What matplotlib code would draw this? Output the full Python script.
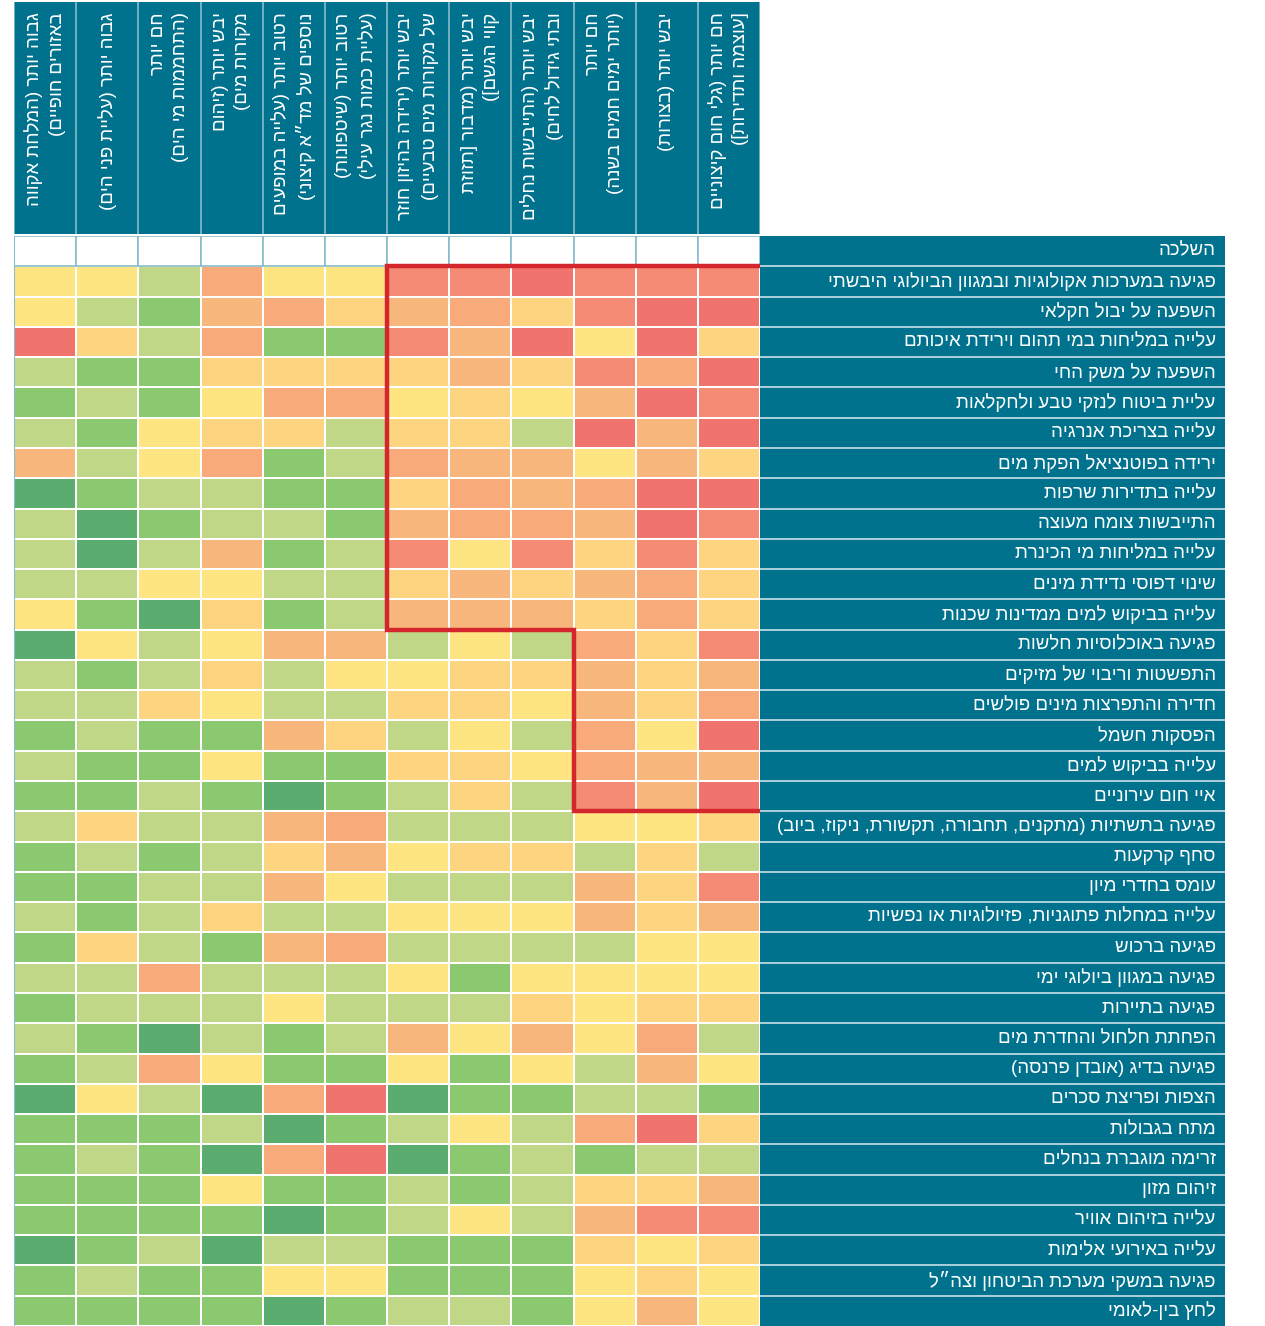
import numpy as np
import matplotlib
matplotlib.use('Agg')
import matplotlib.pyplot as plt
from matplotlib.colors import ListedColormap, BoundaryNorm
from matplotlib.patches import Rectangle

plt.rcParams['font.family'] = ['Liberation Sans', 'DejaVu Sans']

# column headers (climate hazards), left to right
hazards = [
    "גבוה יותר (המלחת אקווה\nבאזורים חופיים)",
    "גבוה יותר (עליית פני הים)",
    "חם יותר\n(התחממות מי הים)",
    "יבש יותר (זיהום\nמקורות מים)",
    "רטוב יותר (עלייה במופעים\nנוספים של מד״א קיצוני)",
    "רטוב יותר (שיטפונות)\n(עליית כמות נגר עילי)",
    "יבש יותר (ירידה בהיזון חוזר\nשל מקורות מים טבעיים)",
    "יבש יותר (מדבור [תזוזת\nקווי הגשם])",
    "יבש יותר (התייבשות נחלים\nובתי גידול לחים)",
    "חם יותר\n(יותר ימים חמים בשנה)",
    "יבש יותר (בצורות)",
    "חם יותר (גלי חום קיצוניים\n[עוצמה ותדירות])",
]

header_label = "השלכה"

# row labels (impacts), top to bottom
impacts = [
    "פגיעה במערכות אקולוגיות ובמגוון הביולוגי היבשתי",
    "השפעה על יבול חקלאי",
    "עלייה במליחות במי תהום וירידת איכותם",
    "השפעה על משק החי",
    "עליית ביטוח לנזקי טבע ולחקלאות",
    "עלייה בצריכת אנרגיה",
    "ירידה בפוטנציאל הפקת מים",
    "עלייה בתדירות שרפות",
    "התייבשות צומח מעוצה",
    "עלייה במליחות מי הכינרת",
    "שינוי דפוסי נדידת מינים",
    "עלייה בביקוש למים ממדינות שכנות",
    "פגיעה באוכלוסיות חלשות",
    "התפשטות וריבוי של מזיקים",
    "חדירה והתפרצות מינים פולשים",
    "הפסקות חשמל",
    "עלייה בביקוש למים",
    "איי חום עירוניים",
    "פגיעה בתשתיות (מתקנים, תחבורה, תקשורת, ניקוז, ביוב)",
    "סחף קרקעות",
    "עומס בחדרי מיון",
    "עלייה במחלות פתוגניות, פזיולוגיות או נפשיות",
    "פגיעה ברכוש",
    "פגיעה במגוון ביולוגי ימי",
    "פגיעה בתיירות",
    "הפחתת חלחול והחדרת מים",
    "פגיעה בדיג (אובדן פרנסה)",
    "הצפות ופריצת סכרים",
    "מתח בגבולות",
    "זרימה מוגברת בנחלים",
    "זיהום מזון",
    "עלייה בזיהום אוויר",
    "עלייה באירועי אלימות",
    "פגיעה במשקי מערכת הביטחון וצה״ל",
    "לחץ בין-לאומי",
]

# impact level 0 (low, dark green) .. 8 (high, red)
scores = [
    [3, 3, 2, 6, 3, 3, 7, 7, 8, 7, 7, 7],
    [3, 2, 1, 5, 6, 4, 5, 6, 4, 7, 8, 8],
    [8, 4, 2, 6, 1, 1, 7, 5, 8, 3, 8, 4],
    [2, 1, 1, 4, 4, 4, 4, 5, 4, 7, 6, 8],
    [1, 2, 1, 3, 6, 6, 3, 4, 3, 5, 8, 7],
    [2, 1, 3, 4, 4, 2, 4, 4, 2, 8, 5, 8],
    [5, 2, 3, 6, 1, 2, 6, 5, 5, 3, 5, 4],
    [0, 1, 2, 2, 1, 1, 4, 6, 5, 6, 8, 8],
    [2, 0, 1, 2, 2, 1, 5, 6, 6, 5, 8, 7],
    [2, 0, 2, 5, 1, 2, 7, 3, 7, 4, 7, 4],
    [2, 2, 3, 3, 2, 2, 4, 5, 4, 5, 6, 4],
    [3, 1, 0, 4, 1, 2, 5, 5, 5, 4, 6, 4],
    [0, 3, 2, 3, 5, 5, 2, 3, 2, 6, 4, 7],
    [2, 1, 2, 4, 2, 3, 3, 4, 4, 5, 4, 5],
    [2, 2, 4, 3, 2, 2, 4, 4, 3, 5, 4, 6],
    [1, 2, 1, 1, 5, 4, 2, 3, 2, 6, 3, 8],
    [2, 1, 1, 3, 1, 1, 4, 4, 3, 6, 5, 5],
    [1, 1, 2, 1, 0, 1, 2, 4, 2, 7, 5, 8],
    [2, 4, 2, 2, 5, 6, 2, 2, 2, 3, 3, 4],
    [1, 2, 1, 2, 4, 5, 3, 4, 4, 2, 4, 2],
    [1, 1, 2, 2, 5, 3, 2, 2, 2, 5, 4, 7],
    [2, 1, 2, 4, 2, 2, 3, 3, 3, 5, 4, 5],
    [1, 4, 2, 1, 5, 6, 2, 2, 2, 2, 3, 3],
    [2, 2, 6, 2, 2, 2, 3, 1, 3, 3, 3, 3],
    [1, 2, 2, 2, 3, 2, 2, 2, 4, 3, 4, 4],
    [2, 1, 0, 2, 1, 2, 5, 3, 5, 3, 6, 2],
    [1, 2, 6, 3, 1, 1, 3, 1, 3, 2, 5, 3],
    [0, 3, 2, 0, 6, 8, 0, 1, 1, 2, 2, 1],
    [1, 1, 1, 2, 0, 1, 2, 3, 2, 6, 8, 4],
    [1, 2, 1, 0, 6, 8, 0, 1, 2, 1, 2, 2],
    [1, 1, 1, 3, 1, 1, 2, 1, 2, 4, 4, 5],
    [1, 1, 1, 1, 0, 1, 2, 3, 2, 5, 7, 7],
    [0, 1, 2, 0, 2, 2, 1, 1, 1, 4, 3, 4],
    [1, 2, 1, 1, 3, 3, 1, 1, 1, 3, 4, 3],
    [1, 1, 1, 1, 0, 1, 2, 2, 1, 3, 5, 3],
]

# highlighted block: (first row, last row + 1, first column)
high_blocks = [(0, 12, 6), (12, 18, 9)]

level_colors = ['#5aad6f', '#8bc970', '#bfd787', '#fee581', '#fdd581',
                '#f6b67c', '#f8aa7a', '#f58b74', '#f1736d']
TEAL = '#00728e'
LINE_BLUE = '#86bccb'
RED = '#d3262d'


def vis(s):
    # matplotlib has no bidi: reverse each line, mirror brackets
    swap = {'(': ')', ')': '(', '[': ']', ']': '['}
    return '\n'.join(''.join(swap.get(c, c) for c in line[::-1]) for line in s.split('\n'))


W, H = 1265, 1326
fig = plt.figure(figsize=(W / 100, H / 100), dpi=100)

grid_left, grid_right = 14, 760
label_right = 1225
grid_top = 236
n_rows, n_cols = len(impacts), len(hazards)

# heatmap
ax = fig.add_axes([grid_left / W, 0, (grid_right - grid_left) / W, (H - grid_top) / H])
data = np.array(scores)
cmap = ListedColormap(level_colors)
norm = BoundaryNorm(np.arange(-0.5, len(level_colors) + 0.5), cmap.N)
ax.pcolormesh(np.arange(n_cols + 1), np.arange(n_rows + 1), data, cmap=cmap, norm=norm,
              edgecolors='white', linewidth=1.3)
for j in range(n_cols):
    ax.add_patch(Rectangle((j, -1), 1, 1, facecolor='white', edgecolor=LINE_BLUE, lw=1.2))
ax.axvline(0, color=LINE_BLUE, lw=1.5)
ax.set_xlim(0, n_cols)
ax.set_ylim(n_rows, -1)
ax.axis('off')

# red outline around the high-impact blocks
xs, ys = [n_cols], [0]
for r0, r1, c0 in high_blocks:
    xs += [c0, c0]
    ys += [r0, r1]
xs.append(n_cols)
ys.append(high_blocks[-1][1])
ax.plot(xs, ys, color=RED, lw=3.2, solid_joinstyle='miter', clip_on=False, zorder=5)

# row labels
lax = fig.add_axes([grid_right / W, 0, (label_right - grid_right) / W, (H - grid_top) / H])
lax.set_facecolor(TEAL)
lax.set_xlim(0, 1)
lax.set_ylim(n_rows, -1)
for i in range(n_rows):
    lax.axhline(i, color='#c9e0e7', lw=1.2)
for i, lab in enumerate([header_label] + impacts):
    lax.text(0.98, i - 0.5, vis(lab), color='white', fontsize=13.4, ha='right', va='center')
lax.set_xticks([])
lax.set_yticks([])
for s in lax.spines.values():
    s.set_visible(False)

# column headers
hax = fig.add_axes([grid_left / W, (H - 234) / H, (grid_right - grid_left) / W, 232 / H])
hax.set_facecolor(TEAL)
hax.set_xlim(0, n_cols)
hax.set_ylim(0, 1)
for j in range(n_cols + 1):
    hax.axvline(j, color=LINE_BLUE, lw=1.2)
for j, lab in enumerate(hazards):
    hax.text(j + 0.5, 0.955, vis(lab), color='white', fontsize=13.4, rotation=90,
             ha='center', va='top', multialignment='right', linespacing=1.4)
hax.set_xticks([])
hax.set_yticks([])
for s in hax.spines.values():
    s.set_visible(False)

fig.savefig('out.png', dpi=100)
